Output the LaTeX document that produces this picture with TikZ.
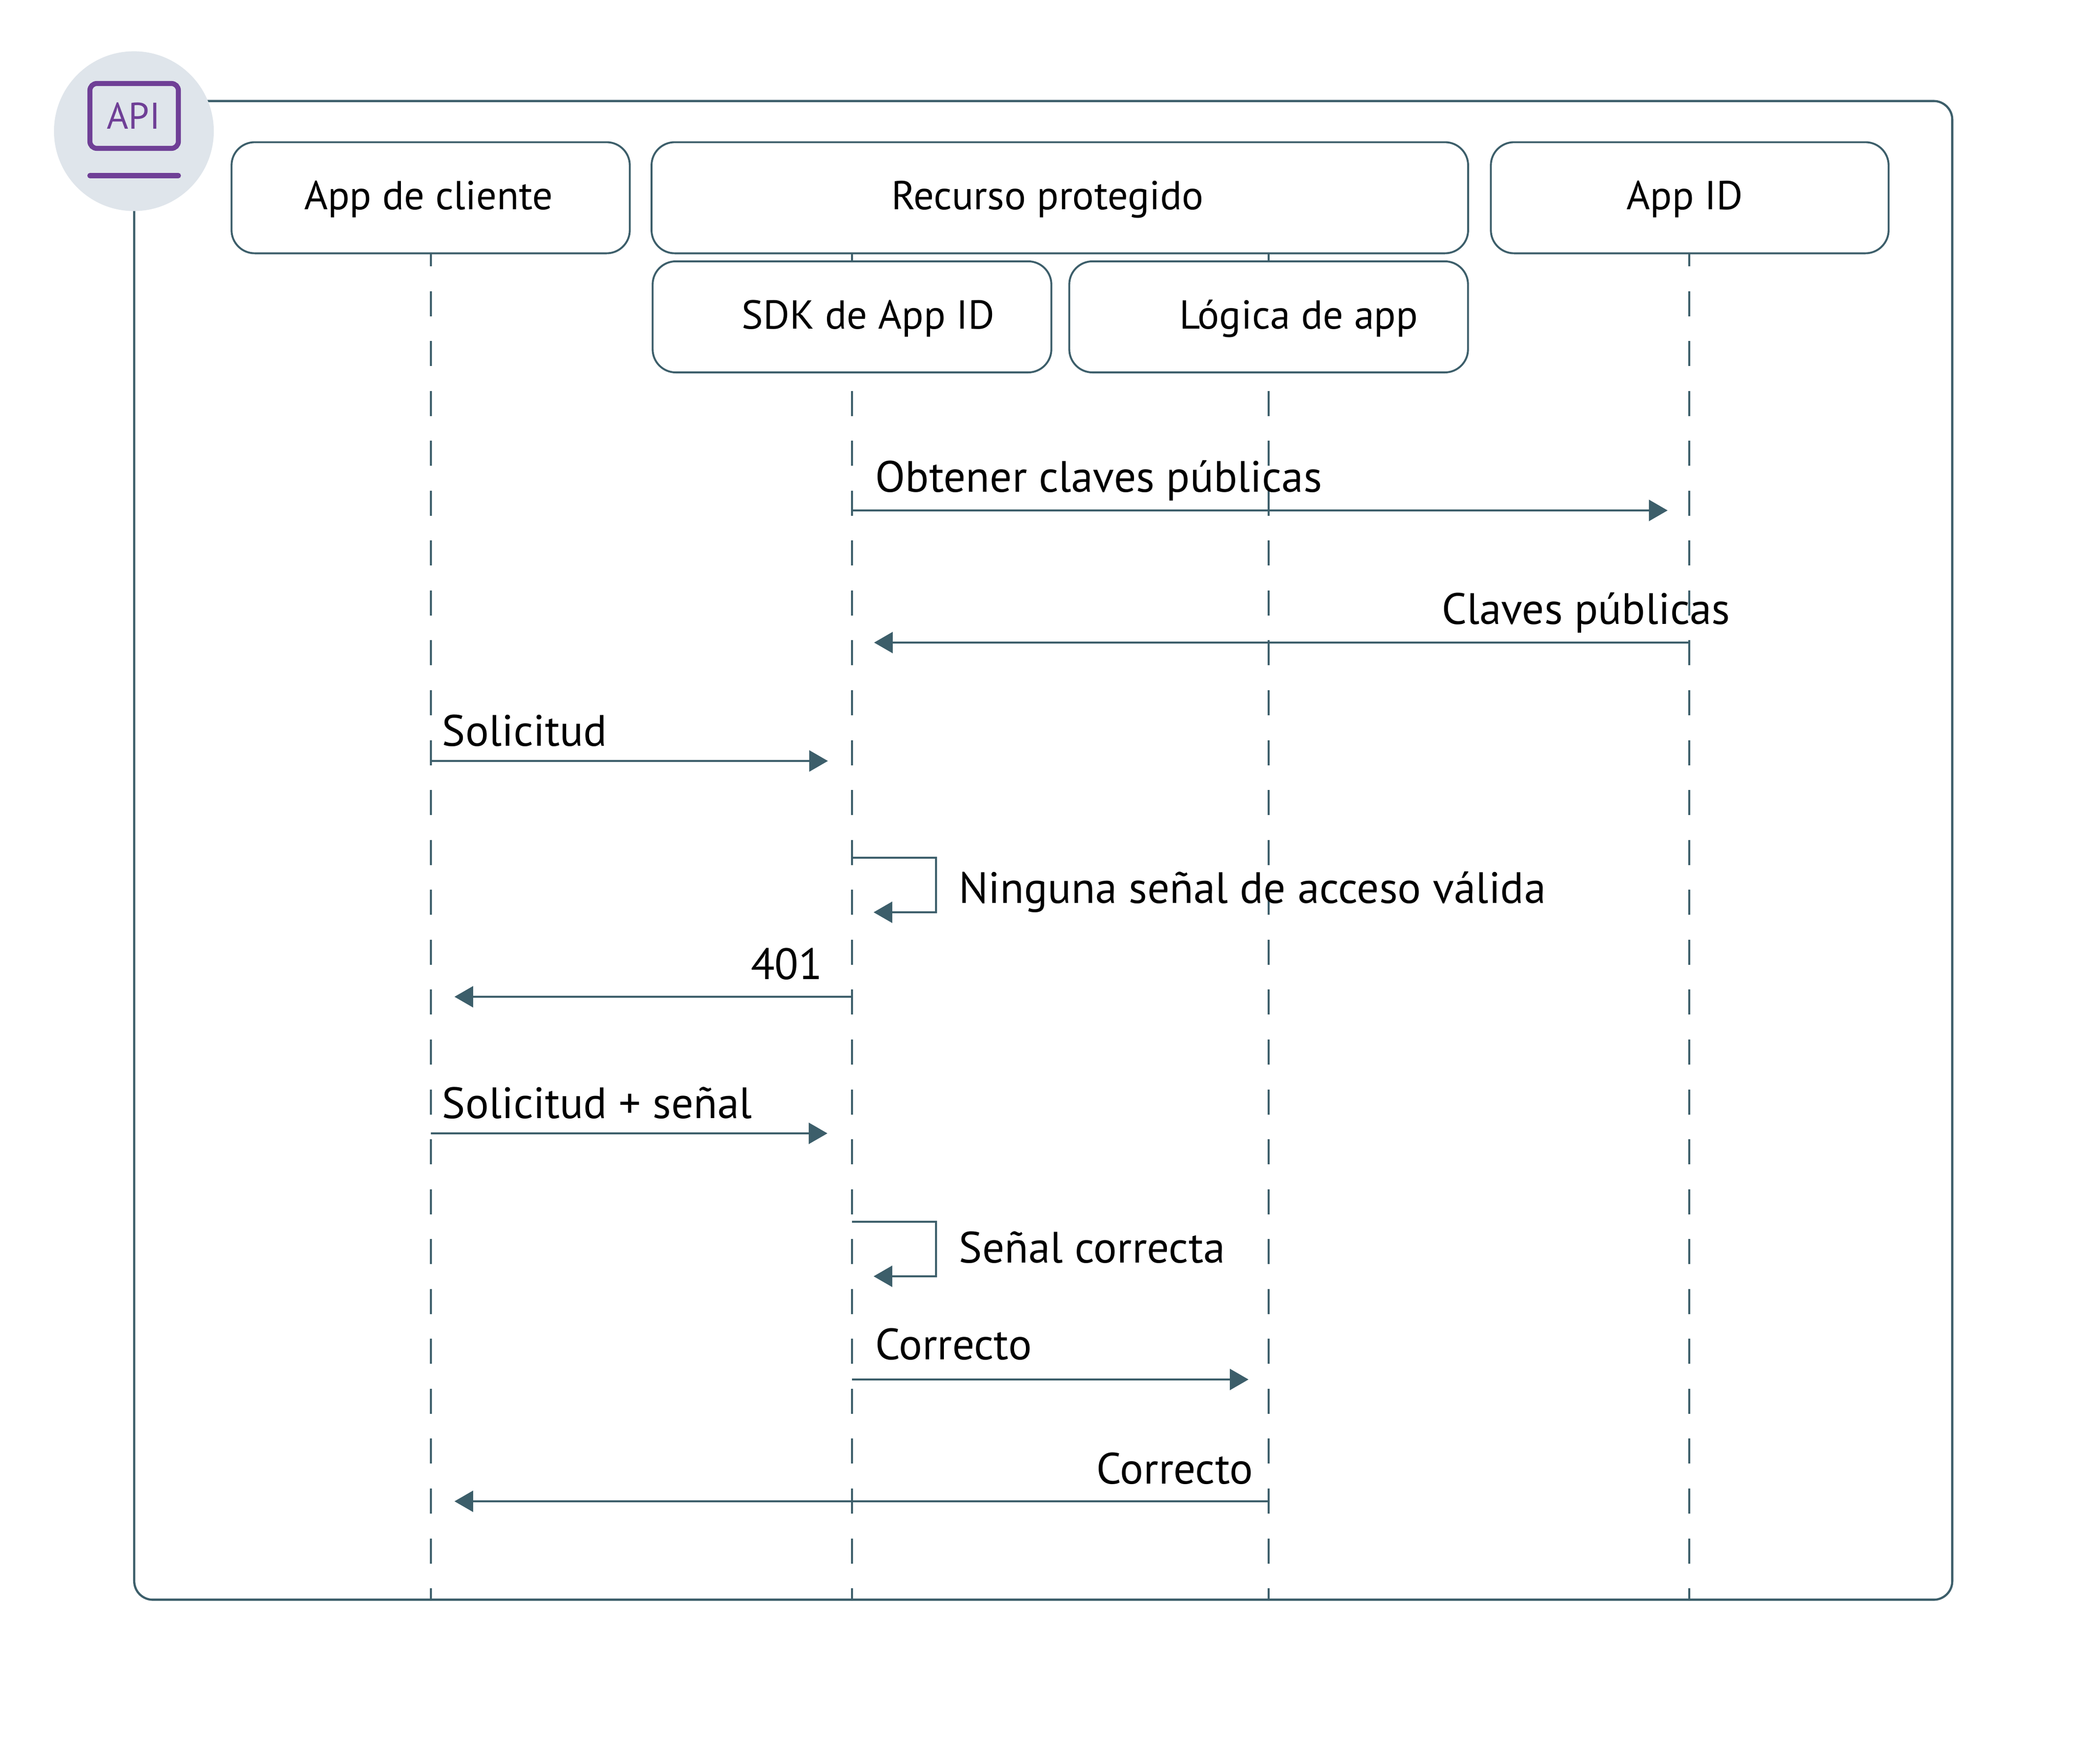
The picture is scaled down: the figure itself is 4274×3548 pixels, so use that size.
\documentclass[tikz,border=0pt]{standalone}
\usepackage{fontspec}
\setmainfont{PT Sans}
\usetikzlibrary{arrows.meta}
\definecolor{linec}{HTML}{3C5E6A}
\definecolor{purp}{HTML}{6F3F96}
\definecolor{disc}{HTML}{DFE5EB}
\tikzset{
  x=0.01cm,y=-0.01cm,
  frame/.style={draw=linec,line width=1.25pt,rounded corners=10.8pt,fill=white,inner sep=0pt},
  actor/.style={draw=linec,line width=1.1pt,rounded corners=13.4pt,fill=white,inner sep=0pt,minimum height=2.26cm},
  life/.style={draw=linec,line width=1pt,dash pattern=on 14.5pt off 14.38pt},
  msg/.style={draw=linec,line width=1pt,-{Triangle[length=10.8pt,width=12.2pt]}},
  txt/.style={inner sep=0pt,font=\fontsize{25.4}{30}\selectfont,text=black},
  boxtxt/.style={txt,anchor=base,font=\fontsize{23.4}{28}\selectfont},
  lw/.style={txt,anchor=base west},
  le/.style={txt,anchor=base east},
}
\begin{document}
\begin{tikzpicture}
\useasboundingbox[fill=white] (0,0) rectangle (4274,3548);
\node[frame,minimum width=36.98cm,minimum height=30.49cm] (fr) at (2123.25,1731) {};
% lifeline ends
\coordinate (top1) at (877,491);\coordinate (bot1) at (877,3255);
\coordinate (top2) at (1734,491);\coordinate (bot2) at (1734,3255);
\coordinate (top3) at (2582,491);\coordinate (bot3) at (2582,3255);
\coordinate (top4) at (3438,491);\coordinate (bot4) at (3438,3255);
\draw[life] (top1)--(bot1);
\draw[life] (top2)--(bot2);
\draw[life] (top3)--(bot3);
\draw[life] (top4)--(bot4);
% actors
\node[actor,minimum width=8.10cm] (cli) at (876.5,402.5) {};
\node[actor,minimum width=16.61cm] (rec) at (2157,402.5) {};
\node[actor,minimum width=8.09cm] (aid) at (3439,402.5) {};
\node[actor,minimum width=8.11cm] (sdk) at (1734,645) {};
\node[actor,minimum width=8.11cm] (log) at (2582,645) {};
\node[boxtxt] (tcli) at (872,426) {App de cliente};
\node[boxtxt] (trec) at (2132,426) {Recurso protegido};
\node[boxtxt] (taid) at (3429,426) {App ID};
\node[boxtxt] (tsdk) at (1767,669) {SDK de App ID};
\node[boxtxt] (tlog) at (2643,669) {Lógica de app};
% disc and icon
\node[circle,fill=disc,minimum size=3.25cm,inner sep=0pt] (disc) at (272.5,267) {};
\draw[purp,line width=2.9pt,rounded corners=4pt] (183,170) rectangle (363,302);
\draw[purp,line width=3pt,line cap=round] (183,357.5) -- (363,357.5);
\node[txt,anchor=base,text=purp,font=\fontsize{21.5}{24}\selectfont] (api) at (272,262.5) {API};
% messages
\coordinate (a1) at (1734,1039);\coordinate (b1) at (3394,1039);
\draw[msg] (a1)--(b1);
\node[lw] (m1) at (1781,1001) {Obtener claves públicas};
\coordinate (a2) at (3438,1308);\coordinate (b2) at (1779,1308);
\draw[msg] (a2)--(b2);
\node[le] (m2) at (3522,1270) {Claves públicas};
\coordinate (a3) at (877,1549);\coordinate (b3) at (1685,1549);
\draw[msg] (a3)--(b3);
\node[lw] (m3) at (899,1518) {Solicitud};
\coordinate (a4) at (1734,1746);\coordinate (c4) at (1905,1746);\coordinate (d4) at (1905,1857);\coordinate (b4) at (1778,1857);
\draw[msg] (a4)--(c4)--(d4)--(b4);
\node[lw] (m4) at (1951,1838) {Ninguna señal de acceso válida};
\coordinate (a5) at (1734,2029);\coordinate (b5) at (925,2029);
\draw[msg] (a5)--(b5);
\node[le] (m5) at (1675,1993) {401};
\coordinate (a6) at (877,2307);\coordinate (b6) at (1684,2307);
\draw[msg] (a6)--(b6);
\node[lw] (m6) at (899,2276) {Solicitud + señal};
\coordinate (a7) at (1734,2487);\coordinate (c7) at (1905,2487);\coordinate (d7) at (1905,2598);\coordinate (b7) at (1778,2598);
\draw[msg] (a7)--(c7)--(d7)--(b7);
\node[lw] (m7) at (1951,2570) {Señal correcta};
\coordinate (a8) at (1734,2808);\coordinate (b8) at (2541,2808);
\draw[msg] (a8)--(b8);
\node[lw] (m8) at (1781,2767) {Correcto};
\coordinate (a9) at (2582,3056);\coordinate (b9) at (925,3056);
\draw[msg] (a9)--(b9);
\node[le] (m9) at (2551,3020) {Correcto};
\end{tikzpicture}
\end{document}
